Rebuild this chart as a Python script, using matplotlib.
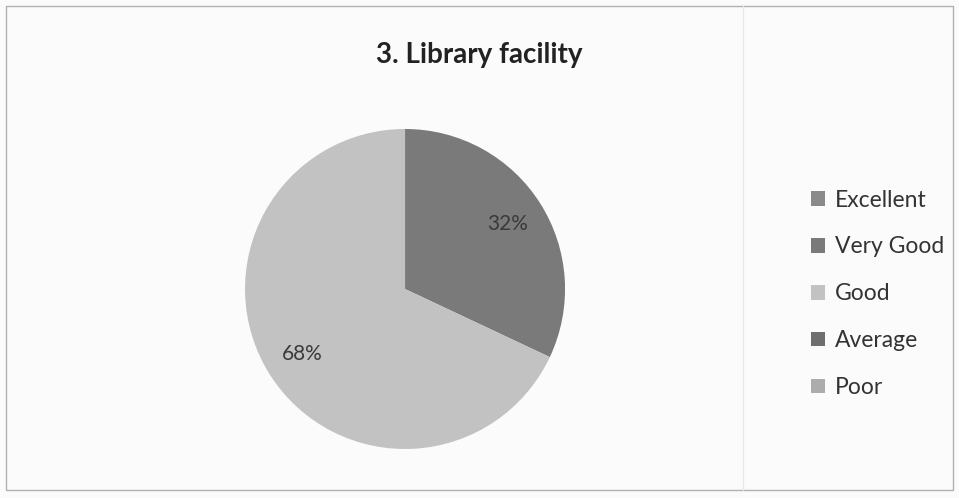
import matplotlib
matplotlib.use('Agg')
import matplotlib.pyplot as plt
from matplotlib.patches import Rectangle

# data
categories = ['Excellent', 'Very Good', 'Good', 'Average', 'Poor']
values = [0, 32, 68, 0, 0]
colours = ['#8a8a8a', '#7a7a7a', '#c2c2c2', '#6e6e6e', '#acacac']

plt.rcParams['font.family'] = ['Lato', 'DejaVu Sans']

fig = plt.figure(figsize=(9.59, 4.98), dpi=100)
fig.patch.set_facecolor('#fbfbfb')

# chart border
fig.patches.append(Rectangle((0.006, 0.016), 0.988, 0.972, transform=fig.transFigure,
                             fill=False, edgecolor='#b0b0b0', linewidth=1.0))
fig.lines.append(plt.Line2D([0.775, 0.775], [0.016, 0.988], transform=fig.transFigure,
                            color='#e8e8e8', linewidth=0.8))

ax = fig.add_axes([0.2555, 0.0984, 0.3337, 0.6426])


def pct_label(p):
    return f'{p:.0f}%' if p > 0.5 else ''


wedges, texts, autotexts = ax.pie(values, colors=colours, startangle=90, counterclock=False,
                                  autopct=pct_label, pctdistance=0.76,
                                  textprops={'fontsize': 15, 'color': '#3a3a3a'})
ax.set_xlim(-1, 1)
ax.set_ylim(-1, 1)
ax.set_aspect('equal')

fig.text(0.4995, 0.889, '3. Library facility', ha='center', va='center',
         fontsize=20, fontweight='bold', color='#222222')

handles = [Rectangle((0, 0), 1, 1, facecolor=c, edgecolor='none') for c in colours]
leg = fig.legend(handles, categories, loc='center left', bbox_to_anchor=(0.824, 0.41),
                 frameon=False, fontsize=16.5, handlelength=0.6, handleheight=0.6,
                 handletextpad=0.45, labelspacing=1.13, labelcolor='#333333')

fig.savefig('out.png', dpi=100, facecolor=fig.get_facecolor())
